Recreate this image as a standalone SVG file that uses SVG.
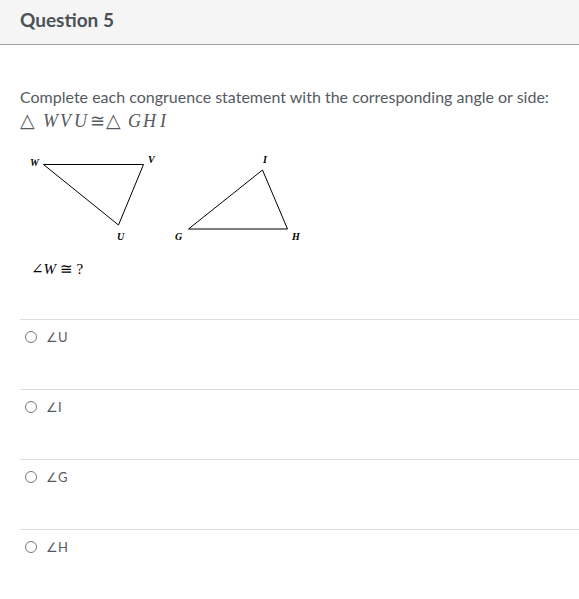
<svg xmlns="http://www.w3.org/2000/svg" width="579" height="599" viewBox="0 0 579 599">
<style>
.sans{font-family:Lato,"Open Sans","Liberation Sans",sans-serif;fill:#555a5f}
.lbl{font-family:"Liberation Serif","DejaVu Serif",serif;font-style:italic;font-weight:bold;font-size:10px;fill:#000}
.math{font-family:"Liberation Serif","DejaVu Serif",serif;font-size:18px;fill:#555a5f}
.mi{font-style:italic}
.tri{fill:none;stroke:#000;stroke-width:1}
.sep{stroke:#dddddd;stroke-width:1}
.radio{fill:#fff;stroke:#777;stroke-width:1}
</style>
<rect x="0" y="0" width="579" height="599" fill="#fff"/>
<g id="header">
<rect x="0" y="0" width="579" height="44" fill="#f5f5f5"/>
<line x1="0" y1="44.5" x2="579" y2="44.5" stroke="#a0a0a0" stroke-width="1"/>
<text x="20" y="27" font-family="Lato,'Open Sans','Liberation Sans',sans-serif" font-size="19" font-weight="bold" fill="#4a5257">Question 5</text>
</g>
<g id="prompt">
<text class="sans" x="20" y="103" font-size="16">Complete each congruence statement with the corresponding angle or side:</text>
<g class="math">
<text x="20" y="127" font-size="19">△</text>
<text class="mi" x="43" y="127">W</text>
<text class="mi" x="60" y="127">V</text>
<text class="mi" x="74" y="127">U</text>
<text x="90" y="127">≅</text>
<text x="106" y="127" font-size="19">△</text>
<text class="mi" x="128" y="127">G</text>
<text class="mi" x="143" y="127">H</text>
<text class="mi" x="160" y="127">I</text>
</g>
</g>
<g id="figure">
<polygon class="tri" points="43.5,164.5 143.5,164.5 118.5,225"/>
<polygon class="tri" points="262.5,170 188.5,229 287.5,229"/>
<text class="lbl" x="30" y="166">W</text>
<text class="lbl" x="148" y="163">V</text>
<text class="lbl" x="117" y="240">U</text>
<text class="lbl" x="263" y="163">I</text>
<text class="lbl" x="175" y="240">G</text>
<text class="lbl" x="292" y="240">H</text>
</g>
<g id="question">
<text x="31" y="274" font-family="'Liberation Serif','DejaVu Serif',serif" font-size="15" fill="#000">∠<tspan font-style="italic">W</tspan> ≅ ?</text>
</g>
<g id="separators">
<line class="sep" x1="20" y1="319.5" x2="579" y2="319.5"/>
<line class="sep" x1="20" y1="389.5" x2="579" y2="389.5"/>
<line class="sep" x1="20" y1="459.5" x2="579" y2="459.5"/>
<line class="sep" x1="20" y1="529.5" x2="579" y2="529.5"/>
</g>
<g id="optionU">
<circle class="radio" cx="31" cy="337" r="5.5"/>
<text class="sans" x="46" y="341.5" font-size="13">∠U</text>
</g>
<g id="optionI">
<circle class="radio" cx="31" cy="407" r="5.5"/>
<text class="sans" x="46" y="411.5" font-size="13">∠I</text>
</g>
<g id="optionG">
<circle class="radio" cx="31" cy="477" r="5.5"/>
<text class="sans" x="46" y="481.5" font-size="13">∠G</text>
</g>
<g id="optionH">
<circle class="radio" cx="31" cy="547" r="5.5"/>
<text class="sans" x="46" y="551.5" font-size="13">∠H</text>
</g>
</svg>
